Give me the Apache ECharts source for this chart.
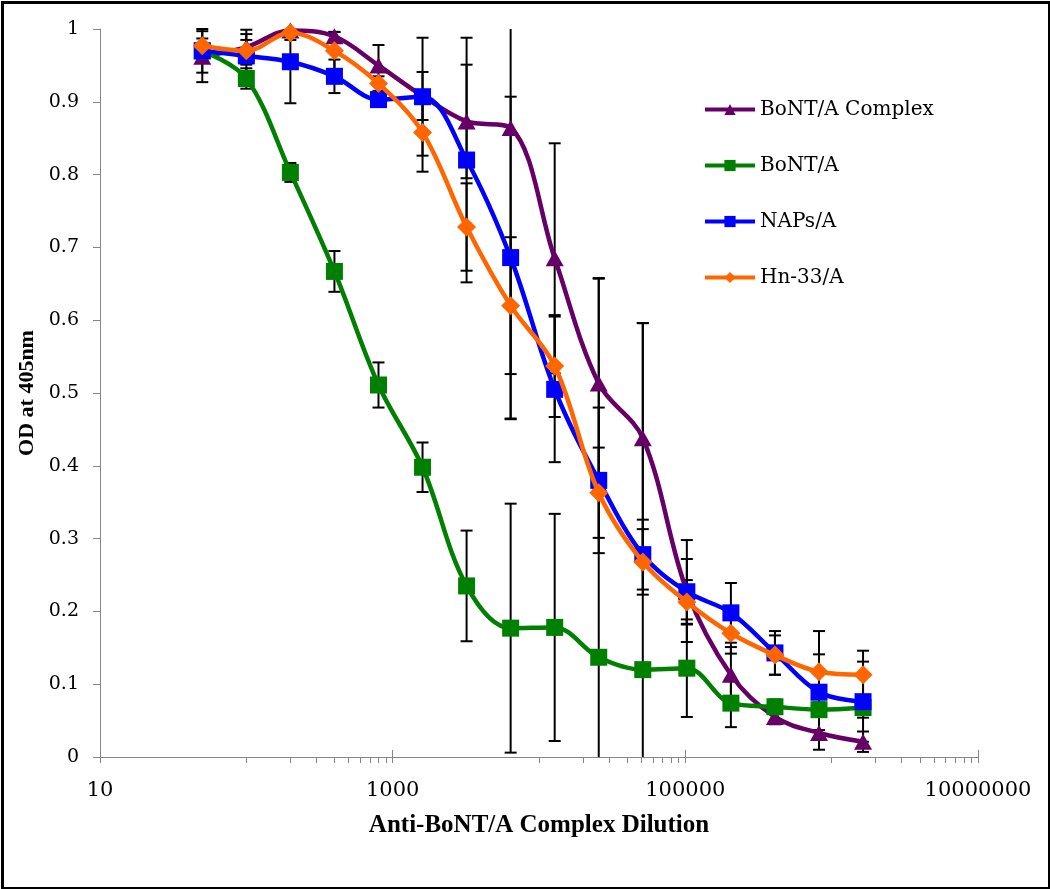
<!DOCTYPE html>
<html>
<head>
<meta charset="utf-8">
<script src="https://cdn.jsdelivr.net/npm/echarts@6/dist/echarts.min.js"></script>
<style>
html,body{margin:0;padding:0;background:#fff;}
#chart{width:1050px;height:889px;}
</style>
</head>
<body>
<div id="chart"></div>
<script>
const dilutions = [50,100,200,400,800,1600,3200,6400,12800,25600,51200,102400,204800,409600,819200,1638400];
const seriesNames = ['BoNT/A Complex','BoNT/A','NAPs/A','Hn-33/A'];
const complexOD  = [0.962,0.975,0.998,0.990,0.950,0.908,0.873,0.864,0.685,0.513,0.438,0.228,0.113,0.055,0.033,0.021];
const complexErr = [0.035,0.024,0.005,0.006,0.028,0.033,0.078,0.400,0.158,0.145,0.158,0.070,0.038,0.010,0.023,0.014];
const bontOD     = [0.970,0.932,0.803,0.667,0.511,0.398,0.235,0.177,0.178,0.137,0.120,0.122,0.074,0.069,0.065,0.068];
const bontErr    = [0.010,0.014,0.013,0.028,0.031,0.034,0.076,0.171,0.156,0.520,0.476,0.067,0.033,0.010,0.010,0.014];
const napsOD     = [0.970,0.963,0.955,0.935,0.903,0.907,0.820,0.686,0.505,0.380,0.278,0.227,0.198,0.143,0.089,0.076];
const napsErr    = [0.030,0.030,0.057,0.023,0.010,0.081,0.168,0.221,0.100,0.100,0.048,0.045,0.041,0.030,0.052,0.055];
const hnOD       = [0.977,0.970,0.995,0.970,0.925,0.858,0.728,0.620,0.537,0.363,0.268,0.213,0.170,0.140,0.117,0.113];
const hnErr      = [0.010,0.015,0.010,0.026,0.010,0.054,0.060,0.094,0.070,0.062,0.045,0.030,0.028,0.027,0.056,0.033];
const xMajorTicks = [10,1000,100000,10000000];
const xMinorTicks = [100,200,300,400,500,600,700,800,900,
  10000,20000,30000,40000,50000,60000,70000,80000,90000,
  1000000,2000000,3000000,4000000,5000000,6000000,7000000,8000000,9000000];
const yTicksMax = 1;

const colors = ['#660066','#008000','#0000FF','#FF6600'];
const symbols = ['triangle','rect','rect','diamond'];
const symbolSizes = [[18,16],17,17,19];
const odArrays = [complexOD,bontOD,napsOD,hnOD];
const errArrays = [complexErr,bontErr,napsErr,hnErr];

const serifFont = 'DejaVu Serif';
const titleFont = 'Liberation Serif';

function errorRender(params, api){
  const x = api.value(0), y = api.value(1), e = api.value(2);
  const cs = params.coordSys;
  const top = api.coord([x, y + e]);
  const bot = api.coord([x, y - e]);
  const yMin = cs.y, yMax = cs.y + cs.height;
  const children = [];
  let t = top[1], b = bot[1];
  const capW = 6;
  const style = {stroke:'#000', lineWidth:2, fill:null};
  const tc = Math.max(t, yMin), bc = Math.min(b, yMax);
  children.push({type:'line', shape:{x1:top[0],y1:tc,x2:top[0],y2:bc}, style:style});
  if (t >= yMin - 0.5) children.push({type:'line', shape:{x1:top[0]-capW,y1:t,x2:top[0]+capW,y2:t}, style:style});
  if (b <= yMax + 0.5) children.push({type:'line', shape:{x1:bot[0]-capW,y1:b,x2:bot[0]+capW,y2:b}, style:style});
  return {type:'group', children:children};
}

const series = [];
for (let i = 0; i < 4; i++) {
  series.push({
    type:'custom',
    name: seriesNames[i] + ' error',
    renderItem: errorRender,
    data: dilutions.map((d,j)=>[d, odArrays[i][j], errArrays[i][j]]),
    z: 1,
    silent:true,
    encode:{x:0,y:1}
  });
}
for (let i = 0; i < 4; i++) {
  series.push({
    type:'line',
    name: seriesNames[i],
    data: dilutions.map((d,j)=>[d, odArrays[i][j]]),
    smooth: 0.35,
    symbol: symbols[i],
    symbolSize: symbolSizes[i],
    showAllSymbol: true,
    lineStyle:{color:colors[i], width:4.5},
    itemStyle:{color:colors[i]},
    z: 3 + i,
    animation:false
  });
}

const chart = echarts.init(document.getElementById('chart'), null, {renderer:'canvas'});
chart.setOption({
  animation:false,
  backgroundColor:'#fff',
  grid:{left:100, right:72, top:29, bottom:132, containLabel:false},
  legend:{
    data: seriesNames,
    orient:'vertical',
    left:703, top:99, padding:0,
    itemWidth:50, itemHeight:14,
    itemGap:35,
    lineStyle:{width:4},
    textStyle:{fontFamily:serifFont, fontSize:20, color:'#000', lineHeight:21}
  },
  xAxis:[{
    type:'log', logBase:10, min:10, max:10000000,
    name:'Anti-BoNT/A Complex Dilution',
    nameLocation:'middle', nameGap:56,
    nameTextStyle:{fontFamily:titleFont, fontWeight:'bold', fontSize:25, color:'#000'},
    axisLine:{show:true, lineStyle:{color:'#868686', width:1}},
    axisTick:{show:true, inside:false, length:6, customValues: xMajorTicks.concat(xMinorTicks), lineStyle:{color:'#868686'}},
    axisLabel:{show:true, customValues: xMajorTicks, margin:23, fontFamily:serifFont, fontSize:21, color:'#000',
      formatter:(v)=>String(Math.round(v))},
    splitLine:{show:false},
    minorTick:{show:false}
  },{
    type:'log', logBase:10, min:10, max:10000000, position:'bottom',
    axisLine:{show:false},
    axisTick:{show:true, inside:true, length:7, customValues: xMajorTicks, lineStyle:{color:'#868686'}},
    axisLabel:{show:false},
    splitLine:{show:false}
  }],
  yAxis:{
    type:'value', min:0, max:yTicksMax, interval:0.1,
    name:'OD at 405nm',
    nameLocation:'middle', nameGap:62, nameRotate:90,
    nameTextStyle:{fontFamily:titleFont, fontWeight:'bold', fontSize:22, color:'#000'},
    axisLine:{show:true, lineStyle:{color:'#868686', width:1}},
    axisTick:{show:true, inside:false, length:7, lineStyle:{color:'#868686'}},
    axisLabel:{margin:21, fontFamily:serifFont, fontSize:19, color:'#000'},
    splitLine:{show:false}
  },
  graphic:[{
    type:'rect', left:0, top:0, z:100, silent:true,
    shape:{x:1.5, y:1.5, width:1047, height:886},
    style:{fill:null, stroke:'#000', lineWidth:3}
  }],
  series: series
});
</script>
</body>
</html>
